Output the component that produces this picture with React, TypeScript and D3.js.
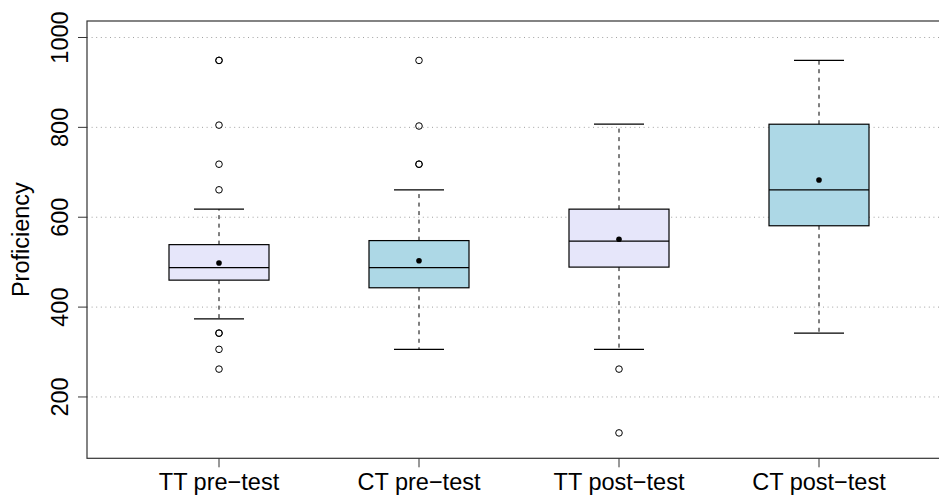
import React from "react";
import * as d3 from "d3";

const categories = ["TT pre\u2212test", "CT pre\u2212test", "TT post\u2212test", "CT post\u2212test"];
const lowerWhisker = [374, 306, 306, 342];
const q1 = [460, 443, 489, 581];
const medians = [488, 488, 547, 661];
const q3 = [539, 548, 618, 807];
const upperWhisker = [618, 661, 807, 949];
const means = [498, 503, 551, 683];
const outliers = [
  [949, 949, 805, 718, 661, 342, 342, 306, 262],
  [949, 803, 718, 718],
  [262, 120],
  [],
];
const fills = ["#E6E6FA", "#ADD8E6", "#E6E6FA", "#ADD8E6"];
const yTicks = [200, 400, 600, 800, 1000];
const yLabel = "Proficiency";

const W = 939;
const H = 495;
const left = 87;
const right = 951;
const top = 21;
const bottom = 458.3;
const FONT = "'Liberation Sans', Arial, Helvetica, sans-serif";
const FS = 23.5;

export default function App() {
  const y = d3.scaleLinear().domain([63.5, 1036.7]).range([bottom, top]);
  const x = d3.scaleLinear().domain([0.34, 4.66]).range([left, right]);
  const boxHalf = x(1.25) - x(1);
  const capHalf = x(1.125) - x(1);

  return (
    <svg
      width={W}
      height={H}
      style={{ position: "absolute", left: 0, top: 0, background: "#fff" }}
      fontFamily={FONT}
    >
      {yTicks.map((t) => (
        <line
          key={"g" + t}
          x1={left}
          x2={right}
          y1={y(t)}
          y2={y(t)}
          stroke="#a0a0a0"
          strokeWidth={1}
          strokeDasharray="1,3.6"
        />
      ))}
      {categories.map((c, i) => {
        const cx = x(i + 1);
        return (
          <g key={c}>
            <line x1={cx} x2={cx} y1={y(q3[i])} y2={y(upperWhisker[i])} stroke="#000" strokeWidth={1} strokeDasharray="4,4.5" />
            <line x1={cx} x2={cx} y1={y(q1[i])} y2={y(lowerWhisker[i])} stroke="#000" strokeWidth={1} strokeDasharray="4,4.5" />
            <line x1={cx - capHalf} x2={cx + capHalf} y1={y(upperWhisker[i])} y2={y(upperWhisker[i])} stroke="#000" strokeWidth={1.2} />
            <line x1={cx - capHalf} x2={cx + capHalf} y1={y(lowerWhisker[i])} y2={y(lowerWhisker[i])} stroke="#000" strokeWidth={1.2} />
            <rect
              x={cx - boxHalf}
              width={2 * boxHalf}
              y={y(q3[i])}
              height={y(q1[i]) - y(q3[i])}
              fill={fills[i]}
              stroke="#000"
              strokeWidth={1.2}
            />
            <line x1={cx - boxHalf} x2={cx + boxHalf} y1={y(medians[i])} y2={y(medians[i])} stroke="#000" strokeWidth={1.2} />
            <circle cx={cx} cy={y(means[i])} r={2.8} fill="#000" />
            {outliers[i].map((o, j) => (
              <circle key={j} cx={cx} cy={y(o)} r={3.3} fill="none" stroke="#000" strokeWidth={1} />
            ))}
          </g>
        );
      })}
      <rect x={left} y={top} width={right - left} height={bottom - top} fill="none" stroke="#333" strokeWidth={1.2} />
      {yTicks.map((t) => (
        <g key={"t" + t}>
          <line x1={left - 9} x2={left} y1={y(t)} y2={y(t)} stroke="#333" strokeWidth={1} />
          <text
            transform={`translate(${68},${y(t)}) rotate(-90)`}
            textAnchor="middle"
            fontSize={FS}
            fill="#000"
          >
            {t}
          </text>
        </g>
      ))}
      {categories.map((c, i) => (
        <g key={"x" + c}>
          <line x1={x(i + 1)} x2={x(i + 1)} y1={bottom} y2={bottom + 9} stroke="#333" strokeWidth={1} />
          <text x={x(i + 1)} y={490} textAnchor="middle" fontSize={FS} fill="#000">
            {c}
          </text>
        </g>
      ))}
      <text
        transform={`translate(${28.5},${(top + bottom) / 2}) rotate(-90)`}
        textAnchor="middle"
        fontSize={FS}
        fill="#000"
      >
        {yLabel}
      </text>
    </svg>
  );
}
